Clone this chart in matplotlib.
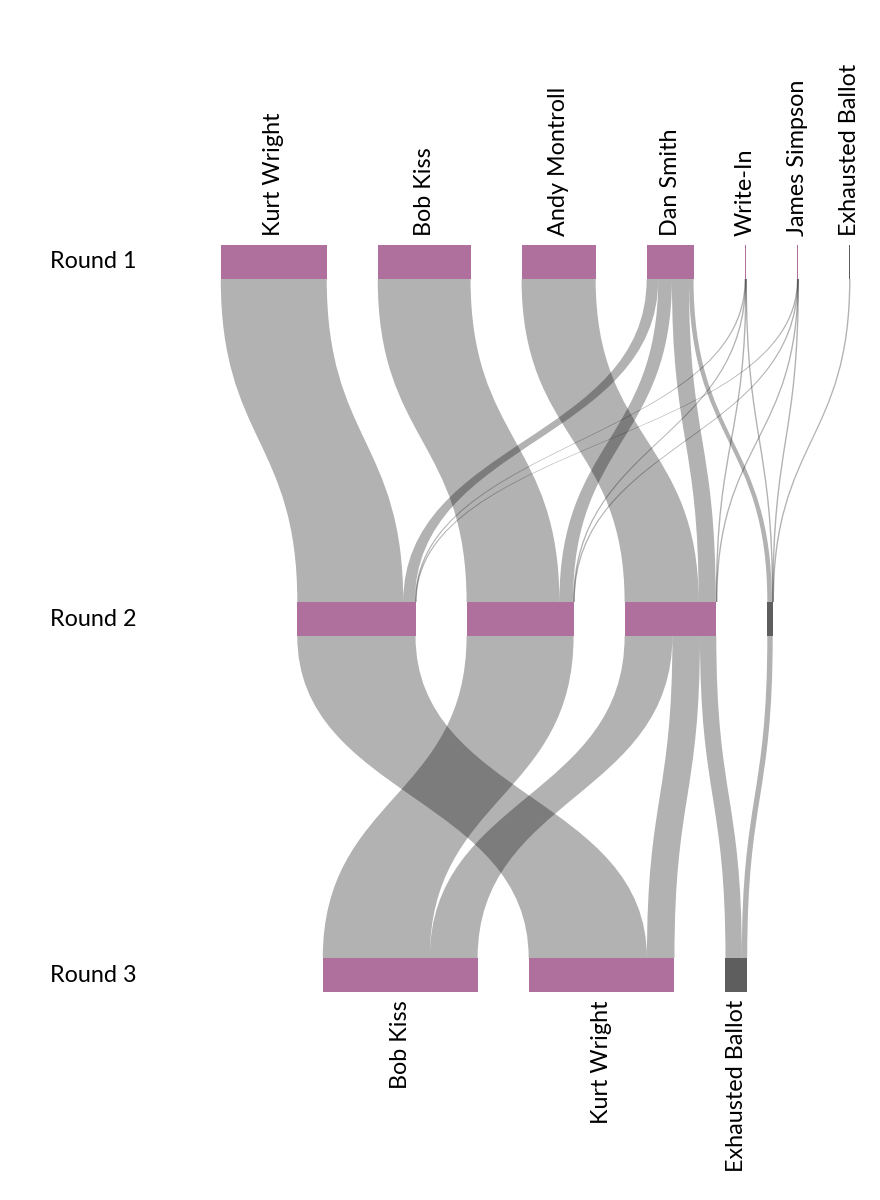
import numpy as np
import matplotlib.pyplot as plt
from matplotlib.path import Path
from matplotlib.patches import PathPatch, Rectangle

# node values per round (votes)
r1_names = ['Kurt Wright', 'Bob Kiss', 'Andy Montroll', 'Dan Smith', 'Write-In', 'James Simpson', 'Exhausted Ballot']
r1_votes = [2951, 2585, 2063, 1306, 36, 35, 4]
r2_names = ['Kurt Wright', 'Bob Kiss', 'Andy Montroll', 'Exhausted Ballot']
r2_votes = [3294, 2981, 2554, 151]
r3_names = ['Bob Kiss', 'Kurt Wright', 'Exhausted Ballot']
r3_votes = [4313, 4061, 606]

# transfers (source index, target index, votes)
links_12 = [(0, 0, 2951), (1, 1, 2585), (2, 2, 2063),
            (3, 0, 323), (3, 1, 381), (3, 2, 474), (3, 3, 128),
            (4, 0, 11), (4, 1, 9), (4, 2, 9), (4, 3, 7),
            (5, 0, 9), (5, 1, 6), (5, 2, 8), (5, 3, 12),
            (6, 3, 4)]
links_23 = [(0, 1, 3294), (1, 0, 2981),
            (2, 0, 1332), (2, 1, 767), (2, 2, 455),
            (3, 2, 151)]

round_labels = ['Round 1', 'Round 2', 'Round 3']

W, H = 880, 1200
scale = 1 / 27.85      # px per vote
gap = 51
cx = 535
bar_h = 34
round_y = [245, 602, 958]
pink = '#b0709e'
dark = '#5e5e5e'
fs = 16.8

plt.rcParams['font.family'] = ['Lato', 'DejaVu Sans']
fig = plt.figure(figsize=(8.8, 12), dpi=100)
ax = fig.add_axes([0, 0, 1, 1])
ax.set_xlim(0, W)
ax.set_ylim(H, 0)
ax.axis('off')


def layout(votes):
    widths = [v * scale for v in votes]
    total = sum(widths) + gap * (len(widths) - 1)
    x = cx - total / 2
    xs = []
    for w in widths:
        xs.append(x)
        x += w + gap
    return xs, widths


layouts = [layout(r1_votes), layout(r2_votes), layout(r3_votes)]
names = [r1_names, r2_names, r3_names]


def draw_links(links, src, tgt, y0, y1):
    sx, _ = src
    tx, _ = tgt
    s_off = list(sx)
    t_off = list(tx)
    s_pos, t_pos = {}, {}
    # outgoing sorted by target position, incoming by source position
    for l in sorted(links, key=lambda l: (sx[l[0]], tx[l[1]])):
        s_pos[l] = s_off[l[0]]
        s_off[l[0]] += l[2] * scale
    for l in sorted(links, key=lambda l: (tx[l[1]], sx[l[0]])):
        t_pos[l] = t_off[l[1]]
        t_off[l[1]] += l[2] * scale
    ym = (y0 + y1) / 2
    for l in links:
        w = max(l[2] * scale, 1.4)
        a0, b0 = s_pos[l], t_pos[l]
        a1, b1 = a0 + w, b0 + w
        verts = [(a0, y0), (a0, ym), (b0, ym), (b0, y1),
                 (b1, y1), (b1, ym), (a1, ym), (a1, y0), (a0, y0)]
        codes = [Path.MOVETO, Path.CURVE4, Path.CURVE4, Path.CURVE4,
                 Path.LINETO, Path.CURVE4, Path.CURVE4, Path.CURVE4,
                 Path.CLOSEPOLY]
        ax.add_patch(PathPatch(Path(verts, codes), facecolor='black',
                               alpha=0.3, edgecolor='none', lw=0))


draw_links(links_12, layouts[0], layouts[1], round_y[0] + bar_h, round_y[1])
draw_links(links_23, layouts[1], layouts[2], round_y[1] + bar_h, round_y[2])

for r in range(3):
    xs, ws = layouts[r]
    for i, (x, w) in enumerate(zip(xs, ws)):
        col = dark if names[r][i] == 'Exhausted Ballot' else pink
        ax.add_patch(Rectangle((x, round_y[r]), max(w, 1.2), bar_h,
                               facecolor=col, edgecolor='none'))
    ax.text(50, round_y[r] + bar_h / 2, round_labels[r], fontsize=fs,
            va='center', ha='left', color='black')

xs, ws = layouts[0]
for x, w, n in zip(xs, ws, r1_names):
    ax.text(x + max(w, 1.2) / 2, round_y[0] - 9, n, rotation=90, fontsize=fs,
            ha='center', va='bottom', color='black')
xs, ws = layouts[2]
for x, w, n in zip(xs, ws, r3_names):
    ax.text(x + w / 2, round_y[2] + bar_h + 8, n, rotation=90, fontsize=fs,
            ha='center', va='top', color='black')

fig.savefig('out.png', dpi=100, facecolor='white')
